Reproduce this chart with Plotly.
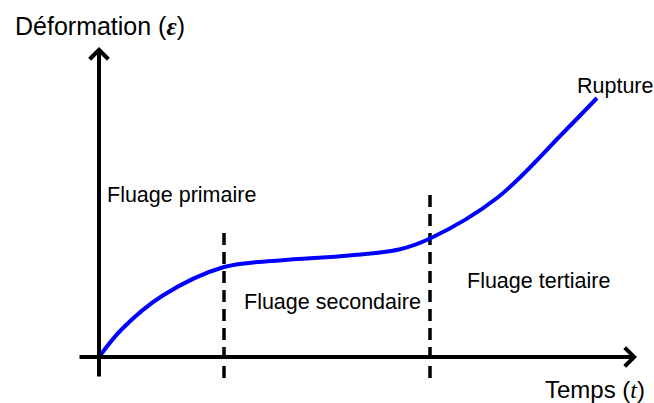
import plotly.graph_objects as go

# Creep curve (time t, strain eps) in arbitrary units
time_t = [0.0, 0.46, 1.26, 2.5, 3.6, 5.0, 6.0, 6.62, 7.96, 9.28, 9.96]
strain = [0.0, 0.56, 1.22, 1.80, 1.93, 2.03, 2.15, 2.37, 3.18, 4.48, 5.18]

# Phase boundaries (time) and the strain level where each dashed line starts
phase_bounds = [2.5, 6.62]
bound_tops = [2.62, 3.28]

phase_labels = ["Fluage primaire", "Fluage secondaire", "Fluage tertiaire"]
rupture_label = "Rupture"
x_title = "Temps (<span style=\"font-family:'Liberation Serif'\"><i>t</i></span>)"
y_title = "Déformation (<span style=\"font-family:'Liberation Serif'\"><b><i>ε</i></b></span>)"

axis_low = -0.42
x_tip = 10.76
y_tip = 6.2

fig = go.Figure()

for b, top in zip(phase_bounds, bound_tops):
    fig.add_trace(go.Scatter(x=[b, b], y=[axis_low, top], mode="lines",
                             line=dict(color="black", width=3.5, dash="12px,7px"),
                             hoverinfo="skip", showlegend=False))

fig.add_trace(go.Scatter(x=time_t, y=strain, mode="lines",
                         line=dict(color="#0000ff", width=4, shape="spline", smoothing=1.0),
                         showlegend=False))

font_lbl = dict(family="Liberation Sans, Arial", size=21.5, color="black")
font_ax = dict(family="Liberation Sans, Arial", size=24, color="black")
font_ax_y = dict(family="Liberation Sans, Arial", size=25, color="black")

annotations = [
    # axes arrows
    dict(x=x_tip, y=0, ax=axis_low, ay=0, xref="x", yref="y", axref="x", ayref="y",
         showarrow=True, arrowhead=4, arrowsize=0.9, arrowwidth=4, arrowcolor="black", text="",
         standoff=0, startstandoff=0),
    dict(x=0, y=y_tip, ax=0, ay=axis_low, xref="x", yref="y", axref="x", ayref="y",
         showarrow=True, arrowhead=4, arrowsize=0.9, arrowwidth=4, arrowcolor="black", text="",
         standoff=0, startstandoff=0),
    dict(x=-1.72, y=6.62, text=y_title, showarrow=False, xanchor="left", yanchor="middle", font=font_ax_y),
    dict(x=8.88, y=-0.64, text=x_title, showarrow=False, xanchor="left", yanchor="middle", font=font_ax),
    dict(x=9.52, y=5.42, text=rupture_label, showarrow=False, xanchor="left", yanchor="middle", font=font_lbl),
    dict(x=0.12, y=3.24, text=phase_labels[0], showarrow=False, xanchor="left", yanchor="middle", font=font_lbl),
    dict(x=2.86, y=1.10, text=phase_labels[1], showarrow=False, xanchor="left", yanchor="middle", font=font_lbl),
    dict(x=7.32, y=1.52, text=phase_labels[2], showarrow=False, xanchor="left", yanchor="middle", font=font_lbl),
]

fig.update_layout(
    width=654, height=403,
    margin=dict(l=0, r=0, t=0, b=0),
    paper_bgcolor="white", plot_bgcolor="white",
    xaxis=dict(range=[-1.98, 11.1], visible=False, fixedrange=True),
    yaxis=dict(range=[-0.92, 7.14], visible=False, fixedrange=True),
    annotations=annotations,
    showlegend=False,
)

fig.write_html("out.html", config={"displayModeBar": False},
               post_script="document.body.style.margin='0';document.body.style.padding='0';")
